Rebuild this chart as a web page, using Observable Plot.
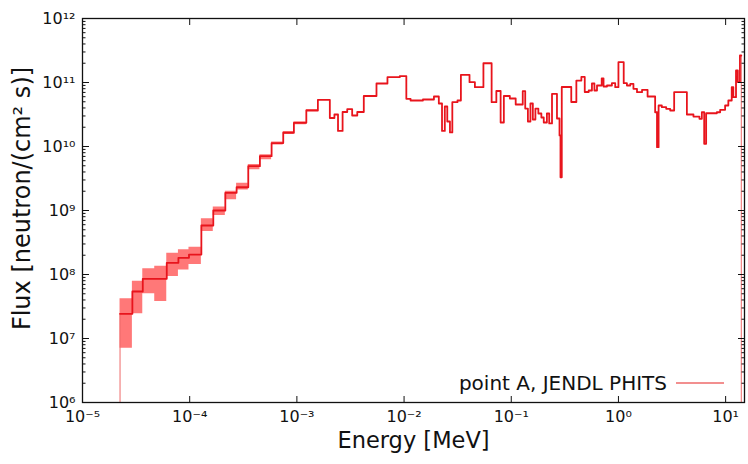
<!DOCTYPE html>
<html>
<head>
<meta charset="utf-8">
<script src="https://cdn.jsdelivr.net/npm/d3@7"></script>
<script src="https://cdn.jsdelivr.net/npm/@observablehq/plot@0.6"></script>
<style>
  body { margin: 0; background: #fff; }
  #chart svg { font-family: "DejaVu Sans", sans-serif; }
</style>
</head>
<body>
<div id="chart"></div>
<script>
// Bin edges [MeV] (n+1 values) and flux per bin [neutron/(cm^2 s)]
const edges = [
  2.24e-5, 2.92e-5, 3.65e-5, 4.72e-5, 6.11e-5, 7.85e-5, 9.85e-5, 1.285e-4, 1.66e-4, 2.15e-4,
  2.74e-4, 3.52e-4, 4.52e-4, 5.81e-4, 7.46e-4, 9.38e-4, 1.225e-3, 1.57e-3, 2.03e-3, 2.24e-3,
  2.42e-3, 2.67e-3, 2.95e-3, 3.28e-3, 3.66e-3, 4.21e-3, 5.53e-3, 7.0e-3, 9.12e-3, 1.05e-2,
  1.15e-2, 1.50e-2, 1.90e-2, 2.11e-2, 2.26e-2, 2.40e-2, 2.53e-2, 2.68e-2, 2.82e-2, 3.15e-2,
  3.39e-2, 4.08e-2, 4.58e-2, 5.50e-2, 6.56e-2, 7.26e-2, 7.96e-2, 8.53e-2, 9.70e-2, 0.110,
  0.128, 0.135, 0.143, 0.151, 0.159, 0.168, 0.179, 0.191, 0.201, 0.215,
  0.226, 0.240, 0.267, 0.282, 0.288, 0.296, 0.363, 0.405, 0.451, 0.485,
  0.528, 0.566, 0.597, 0.631, 0.698, 0.726, 0.782, 0.869, 0.933, 1.00,
  1.12, 1.20, 1.29, 1.38, 1.49, 1.66, 1.87, 2.20, 2.29, 2.37,
  2.54, 2.79, 3.04, 3.31, 4.35, 5.01, 5.70, 6.00, 6.31, 6.58,
  8.28, 8.89, 9.89, 10.6, 11.4, 11.8, 12.5, 13.0, 13.6, 14.0
];
const flux = [
  2.43e7, 5.42e7, 8.57e7, 8.57e7, 1.52e8, 1.82e8, 2.05e8, 5.83e8, 1.0e9, 1.89e9,
  2.31e9, 4.92e9, 7.05e9, 1.13e10, 1.64e10, 2.34e10, 3.65e10, 5.37e10, 2.79e10, 3.16e10,
  1.75e10, 3.46e10, 3.83e10, 3.05e10, 3.46e10, 6.15e10, 9.65e10, 1.21e11, 1.26e11, 5.56e10,
  5.23e10, 5.42e10, 6.04e10, 4.70e10, 1.75e10, 4.22e10, 2.46e10, 1.66e10, 4.92e10, 5.23e10,
  1.32e11, 1.01e11, 8.45e10, 2.00e11, 4.92e10, 7.36e10, 2.37e10, 6.15e10, 5.62e10, 4.53e10,
  7.31e10, 3.92e10, 2.46e10, 4.70e10, 2.64e10, 3.92e10, 3.28e10, 2.84e10, 2.37e10, 3.28e10,
  2.29e10, 6.66e10, 2.74e10, 1.49e10, 3.31e9, 8.51e10, 4.96e10, 1.07e11, 1.22e11, 7.11e10,
  7.50e10, 9.65e10, 7.50e10, 8.98e10, 1.155e11, 8.66e10, 8.98e10, 9.75e10, 8.45e10, 2.08e11,
  9.75e10, 8.98e10, 9.55e10, 7.97e10, 7.05e10, 7.69e10, 6.04e10, 3.43e10, 9.75e9, 4.37e10,
  4.11e10, 3.88e10, 3.65e10, 7.05e10, 3.16e10, 2.94e10, 2.71e10, 3.43e10, 1.10e10, 3.31e10,
  3.43e10, 3.74e10, 4.37e10, 5.23e10, 8.45e10, 5.89e10, 1.54e11, 1.01e11, 2.64e11
];
// Uncertainty band (low-energy bins, lower / upper bound)
const bandLo = [
  7.05e6, 2.43e7, 4.99e7, 3.78e7, 9.31e7, 1.18e8, 1.43e8, 4.70e8, 8.36e8, 1.47e9,
  2.10e9, 4.32e9, 6.19e9, 1.06e10, 1.55e10, 2.19e10, 3.52e10
];
const bandHi = [
  4.17e7, 7.85e7, 1.23e8, 1.35e8, 2.15e8, 2.43e8, 2.67e8, 7.41e8, 1.13e9, 2.00e9,
  2.67e9, 5.24e9, 7.41e9, 1.18e10, 1.71e10, 2.43e10, 3.78e10
];

const xDomain = [1e-5, 15];
const yDomain = [1e6, 1e12];
const xTicks = [1e-5, 1e-4, 1e-3, 1e-2, 1e-1, 1e0, 1e1];
const xTickLabels = ["10⁻⁵", "10⁻⁴", "10⁻³", "10⁻²", "10⁻¹", "10⁰", "10¹"];
const yTicks = [1e6, 1e7, 1e8, 1e9, 1e10, 1e11, 1e12];
const yTickLabels = ["10⁶", "10⁷", "10⁸", "10⁹", "10¹⁰", "10¹¹", "10¹²"];
const xLabel = "Energy [MeV]";
const yLabel = "Flux [neutron/(cm² s)]";
const legendLabel = "point A, JENDL PHITS";

const lineColor = "#e8141c";
const paleColor = "#ee6a6a";
const bandColor = "#ff7878";

// step data (last edge repeats the last value)
const n = flux.length;
const steps = flux.map((f, i) => ({e: edges[i], f}));
steps.push({e: edges[n], f: flux[n - 1]});
const m = bandLo.length;
const band = bandLo.map((lo, i) => ({e: edges[i], lo, hi: bandHi[i]}));
band.push({e: edges[m], lo: bandLo[m - 1], hi: bandHi[m - 1]});
const drops = [{e: edges[0], f: flux[0]}, {e: edges[n], f: flux[n - 1]}];

const fmt = (ticks, labels) => d => labels[ticks.indexOf(d)] ?? "";

const legendMark = (index, scales, values, dims) => {
  const g = d3.create("svg:g");
  const xr = dims.width - dims.marginRight;
  const yb = dims.height - dims.marginBottom;
  g.append("line")
    .attr("x1", xr - 68).attr("x2", xr - 20)
    .attr("y1", yb - 19).attr("y2", yb - 19)
    .attr("stroke", paleColor).attr("stroke-width", 1.5);
  g.append("text")
    .attr("x", xr - 77).attr("y", yb - 19).attr("dy", "0.35em")
    .attr("text-anchor", "end").attr("font-size", 20)
    .attr("fill", "#111")
    .text(legendLabel);
  return g.node();
};

const chart = Plot.plot({
  width: 748,
  height: 464,
  marginLeft: 82,
  marginRight: 4,
  marginTop: 18,
  marginBottom: 62,
  style: {fontFamily: "DejaVu Sans, sans-serif", background: "#fff", color: "#111"},
  x: {type: "log", domain: xDomain},
  y: {type: "log", domain: yDomain},
  marks: [
    Plot.areaY(band, {x: "e", y1: "lo", y2: "hi", curve: "step-after", fill: bandColor}),
    Plot.ruleX(drops, {x: "e", y1: () => yDomain[0], y2: "f", stroke: paleColor, strokeWidth: 1}),
    Plot.line(steps, {x: "e", y: "f", curve: "step-after", stroke: lineColor, strokeWidth: 1.8}),
    // axes with inward ticks
    Plot.axisX(xTicks, {anchor: "bottom", tickSize: -6, tickPadding: 14, tickFormat: fmt(xTicks, xTickLabels), fontSize: 16, label: null}),
    Plot.axisX(xTicks, {anchor: "top", tickSize: -6, tickFormat: () => "", label: null}),
    Plot.axisY(yTicks, {anchor: "left", tickSize: -7, tickPadding: 14, tickFormat: fmt(yTicks, yTickLabels), fontSize: 16, label: null}),
    Plot.axisY(yTicks, {anchor: "right", tickSize: -7, tickFormat: () => "", label: null}),
    Plot.axisY({anchor: "left", ticks: 30, tickSize: -3.5, tickFormat: () => "", label: null}),
    Plot.axisY({anchor: "right", ticks: 30, tickSize: -3.5, tickFormat: () => "", label: null}),
    Plot.frame({stroke: "#111", strokeWidth: 1.3}),
    Plot.text([xLabel], {frameAnchor: "bottom", dy: 45, fontSize: 22.5, fill: "#111"}),
    Plot.text([yLabel], {frameAnchor: "left", textAnchor: "middle", dx: -60, dy: -12, rotate: -90, fontSize: 24, fill: "#111"}),
    legendMark
  ]
});
document.getElementById("chart").appendChild(chart);
</script>
</body>
</html>
